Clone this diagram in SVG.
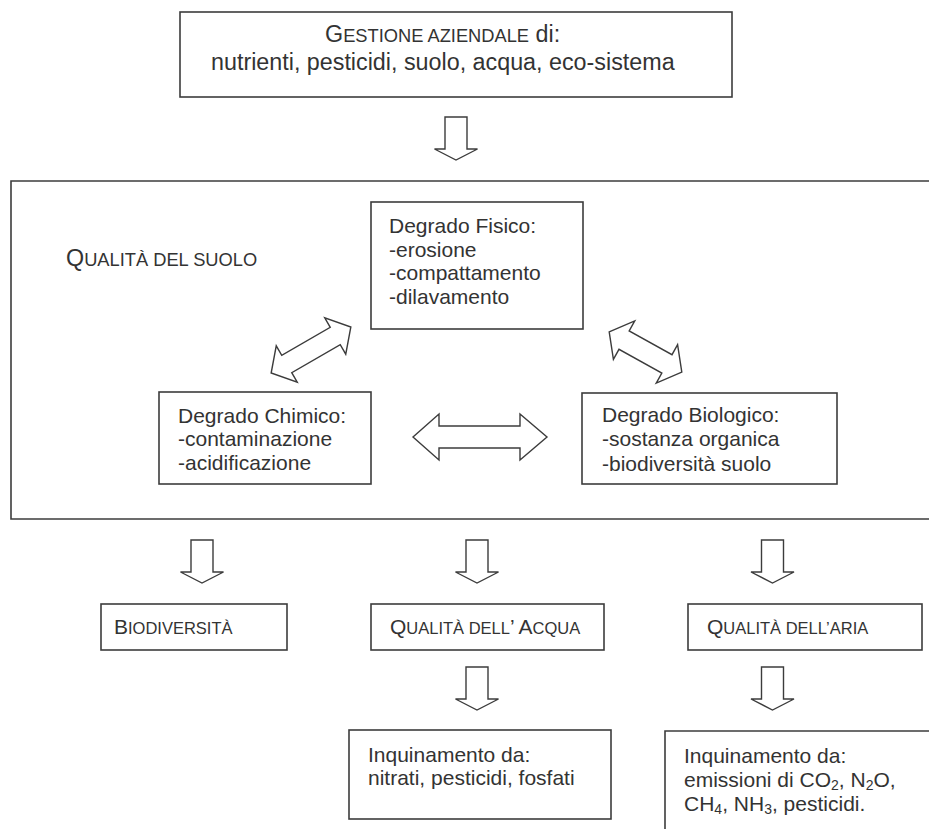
<svg xmlns="http://www.w3.org/2000/svg" xmlns:xlink="http://www.w3.org/1999/xlink" width="929" height="829" viewBox="0 0 929 829">
<style>
.box{fill:#fff;stroke:#3c3c3c;stroke-width:1.6}
.frame{fill:none;stroke:#3c3c3c;stroke-width:1.6}
.arr{fill:#fff;stroke:#3c3c3c;stroke-width:1.4;stroke-linejoin:miter}
text{font-family:"Liberation Sans",Arial,Helvetica,sans-serif;font-size:21px;fill:#333}
.big{font-size:23.3px}
.sc{font-size:16.5px}
.bsc{font-size:18.3px}
.sub{font-size:14px}
</style>
<defs>
<path id="down" d="M-11,0 H11 V32 H21.5 L0,43 L-21.5,32 H-11 Z"/>
</defs>
<rect width="929" height="829" fill="#fff"/>

<g id="gestione">
<rect class="box" x="180" y="12" width="552" height="85"/>
<text class="big" x="325" y="42">G<tspan class="bsc">ESTIONE AZIENDALE</tspan> di:</text>
<text class="big" x="211" y="70">nutrienti, pesticidi, suolo, acqua, eco-sistema</text>
</g>

<g id="qualita-suolo">
<path class="frame" d="M929,181 H11 V519 H929"/>
<text class="big" x="66" y="266">Q<tspan class="bsc">UALITÀ DEL SUOLO</tspan></text>
</g>

<g id="degrado-fisico">
<rect class="box" x="371" y="202" width="212" height="127"/>
<text x="389" y="233">Degrado Fisico:</text>
<text x="389" y="257">-erosione</text>
<text x="389" y="280">-compattamento</text>
<text x="389" y="304">-dilavamento</text>
</g>

<g id="degrado-chimico">
<rect class="box" x="159" y="392" width="212" height="92"/>
<text x="178" y="423">Degrado Chimico:</text>
<text x="178" y="446">-contaminazione</text>
<text x="178" y="470">-acidificazione</text>
</g>

<g id="degrado-biologico">
<rect class="box" x="582" y="393" width="255" height="91"/>
<text x="602" y="422">Degrado Biologico:</text>
<text x="602" y="446">-sostanza organica</text>
<text x="602" y="471">-biodiversità suolo</text>
</g>

<g id="biodiversita">
<rect class="box" x="101" y="604" width="186" height="46"/>
<text x="114" y="634">B<tspan class="sc">IODIVERSITÀ</tspan></text>
</g>

<g id="qualita-acqua">
<rect class="box" x="371" y="604" width="233" height="46"/>
<text x="390" y="634">Q<tspan class="sc">UALITÀ DELL</tspan>’ A<tspan class="sc">CQUA</tspan></text>
</g>

<g id="qualita-aria">
<rect class="box" x="688" y="604" width="234" height="46"/>
<text x="707" y="634">Q<tspan class="sc">UALITÀ DELL’ARIA</tspan></text>
</g>

<g id="inquinamento-acqua">
<rect class="box" x="349" y="730" width="262" height="89"/>
<text x="368" y="762">Inquinamento da:</text>
<text x="368" y="785">nitrati, pesticidi, fosfati</text>
</g>

<g id="inquinamento-aria">
<path class="frame" d="M929,731 H665 V829"/>
<text x="684" y="763">Inquinamento da:</text>
<text x="684" y="787">emissioni di CO<tspan class="sub" dy="3">2</tspan><tspan dy="-3">, N</tspan><tspan class="sub" dy="3">2</tspan><tspan dy="-3">O,</tspan></text>
<text x="684" y="811">CH<tspan class="sub" dy="3">4</tspan><tspan dy="-3">, NH</tspan><tspan class="sub" dy="3">3</tspan><tspan dy="-3">, pesticidi.</tspan></text>
</g>

<g id="connectors">
<use xlink:href="#down" class="arr" x="456" y="117"/>
<polygon class="arr" transform="translate(311,350) rotate(-30)" points="-46,0 -28,-21 -28,-10 28,-10 28,-21 46,0 28,21 28,10 -28,10 -28,21"/>
<polygon class="arr" transform="translate(645.5,352) rotate(29)" points="-41.5,0 -24.5,-22 -24.5,-10.5 24.5,-10.5 24.5,-22 41.5,0 24.5,22 24.5,10.5 -24.5,10.5 -24.5,22"/>
<polygon class="arr" points="413,437 439,414 439,426 520,426 520,414 547,437 520,460 520,448 439,448 439,460"/>
<use xlink:href="#down" class="arr" x="202" y="540"/>
<use xlink:href="#down" class="arr" x="477" y="540"/>
<use xlink:href="#down" class="arr" x="772.5" y="540"/>
<use xlink:href="#down" class="arr" x="477" y="667"/>
<use xlink:href="#down" class="arr" x="772.5" y="667"/>
</g>
</svg>
